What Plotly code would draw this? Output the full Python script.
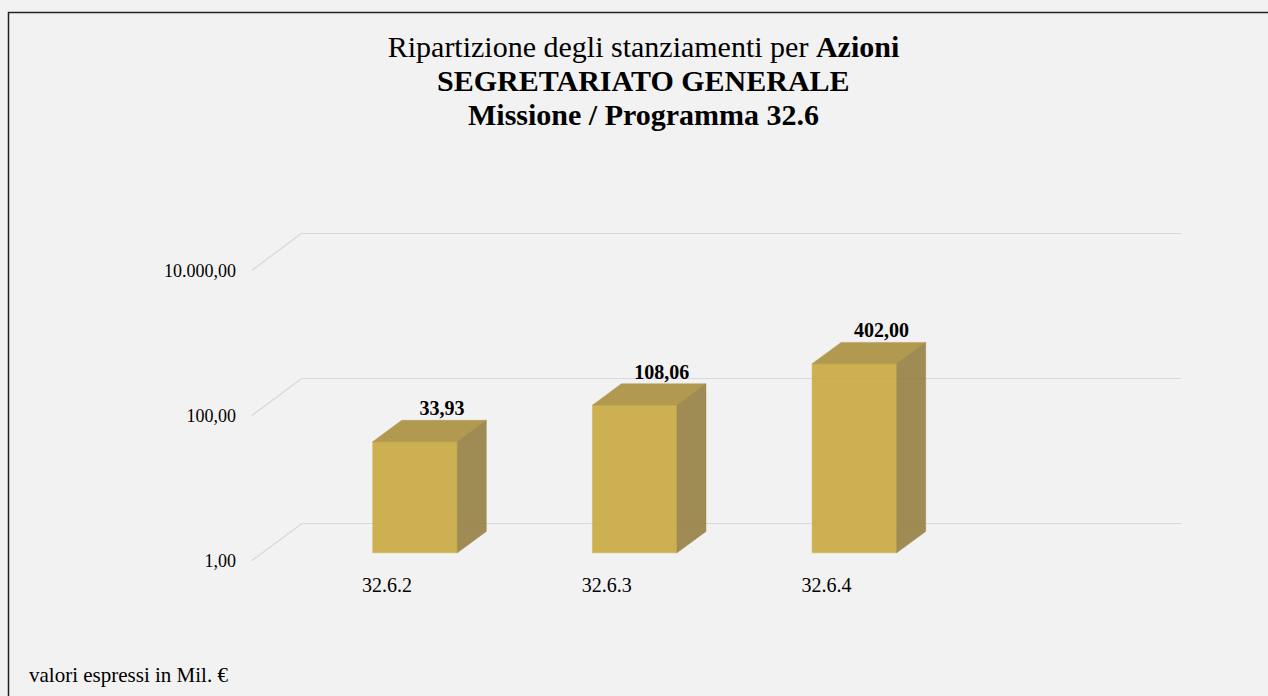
import math
import plotly.graph_objects as go

# ---------------- data ----------------
categories = ["32.6.2", "32.6.3", "32.6.4"]
values = [33.93, 108.06, 402.00]
tick_values = [1, 100, 10000]
title_line1 = "Ripartizione degli stanziamenti per <b>Azioni</b>"
title_line2 = "<b>SEGRETARIATO GENERALE</b>"
title_line3 = "<b>Missione / Programma 32.6</b>"
footnote = "valori espressi in Mil. €"

# ---------------- style / geometry ----------------
W, H = 1268, 696
FONT = "Liberation Serif, Times New Roman, serif"
BG = "#f2f2f2"
GRID = "#d9d9d9"
FRONT_COL = "#caa940"
TOP_COL = "#ab903e"
SIDE_COL = "#978044"

PPD = 73.0            # pixels per decade (log axis)
Y_TOP, Y_BOT = 200, 570
X_L, X_R = 301.7, 1181.0
FRONT_X = 251.7
BACK_BASE, BAR_BASE, FRONT_BASE = 526.7, 556.0, 564.0
CAT0, CAT_STEP = 387.0, 219.7

BAR_OFF = 28.0 / CAT_STEP
BAR_HALF = 42.3 / CAT_STEP
DEPTH_DX = 29.0 / CAT_STEP
DEPTH_K = 10 ** (21.5 / PPD)
LABEL_DX = 27.0 / CAT_STEP


def pxx(p):
    return p / W


def pxy(p):
    return 1 - p / H


def log_range(base_px):
    return [(base_px - Y_BOT) / PPD, (base_px - Y_TOP) / PPD]


def it_fmt(v):
    s = f"{v:,.2f}"
    return s.replace(",", "X").replace(".", ",").replace("X", ".")


fig = go.Figure()

# anchor trace for the back-wall (gridline) axis
fig.add_trace(go.Scatter(x=[0], y=[1], xaxis="x", yaxis="y", mode="markers",
                         marker=dict(opacity=0), hoverinfo="skip", showlegend=False))

# bars (front, top, side faces) on the bar plane axis
for i, (cat, v) in enumerate(zip(categories, values)):
    xl = i + BAR_OFF - BAR_HALF
    xr = i + BAR_OFF + BAR_HALF
    faces = [
        ([xl, xr, xr, xl, xl], [1, 1, v, v, 1], FRONT_COL),
        ([xl, xr, xr + DEPTH_DX, xl + DEPTH_DX, xl], [v, v, v * DEPTH_K, v * DEPTH_K, v], TOP_COL),
        ([xr, xr, xr + DEPTH_DX, xr + DEPTH_DX, xr], [1, v, v * DEPTH_K, DEPTH_K, 1], SIDE_COL),
    ]
    for fx, fy, col in faces:
        fig.add_trace(go.Scatter(
            x=fx, y=fy, xaxis="x", yaxis="y2", mode="lines", fill="toself",
            fillcolor=col, line=dict(color=col, width=0.5), opacity=0.9,
            hoverinfo="skip", showlegend=False, name=cat))

# value labels
fig.add_trace(go.Scatter(
    x=[i + BAR_OFF + LABEL_DX for i in range(len(values))],
    y=[v * DEPTH_K for v in values],
    xaxis="x", yaxis="y2", mode="text",
    text=[it_fmt(v) for v in values],
    textposition="top center",
    textfont=dict(family=FONT, size=20, color="black", weight="bold"),
    hoverinfo="skip", showlegend=False, cliponaxis=False))

# anchor trace for the front (label) axis
fig.add_trace(go.Scatter(x=[0], y=[1], xaxis="x", yaxis="y3", mode="markers",
                         marker=dict(opacity=0), hoverinfo="skip", showlegend=False))

# diagonal wall edges
shapes = []
for t in tick_values:
    lt = math.log10(t)
    shapes.append(dict(type="line", xref="paper", yref="paper", layer="below",
                       x0=pxx(FRONT_X), y0=pxy(FRONT_BASE - PPD * lt),
                       x1=pxx(X_L), y1=pxy(BACK_BASE - PPD * lt),
                       line=dict(color=GRID, width=1.3)))
# outer frame
shapes.append(dict(type="rect", xref="paper", yref="paper",
                   x0=pxx(8.5), y0=-0.02, x1=1.02, y1=pxy(12.5),
                   line=dict(color="#222222", width=1.5)))

fig.update_layout(
    width=W, height=H,
    margin=dict(l=0, r=0, t=0, b=0),
    paper_bgcolor=BG, plot_bgcolor="rgba(0,0,0,0)",
    font=dict(family=FONT, color="black"),
    showlegend=False,
    title=dict(text=title_line1, x=pxx(643.5), xanchor="center", xref="paper",
               y=pxy(47), yanchor="middle", yref="paper",
               font=dict(family=FONT, size=30, color="black")),
    annotations=[
        dict(text=title_line2, x=pxx(643.5), y=pxy(80.7), xref="paper", yref="paper",
             xanchor="center", yanchor="middle", showarrow=False,
             font=dict(family=FONT, size=30, color="black")),
        dict(text=title_line3, x=pxx(643.5), y=pxy(115), xref="paper", yref="paper",
             xanchor="center", yanchor="middle", showarrow=False,
             font=dict(family=FONT, size=30, color="black")),
        dict(text=footnote, x=pxx(27), y=pxy(679), xref="paper", yref="paper",
             xanchor="left", yanchor="middle", showarrow=False,
             font=dict(family=FONT, size=21, color="black")),
    ],
    shapes=shapes,
    xaxis=dict(domain=[pxx(X_L), pxx(X_R)],
               range=[(X_L - CAT0) / CAT_STEP, (X_R - CAT0) / CAT_STEP],
               tickvals=list(range(len(categories))), ticktext=categories,
               showgrid=False, zeroline=False, showline=False, ticks="",
               ticklabelstandoff=4,
               tickfont=dict(family=FONT, size=20, color="black"),
               anchor="y", fixedrange=True),
    yaxis=dict(domain=[pxy(Y_BOT), pxy(Y_TOP)], type="log",
               range=log_range(BACK_BASE),
               tickvals=tick_values, showticklabels=False, ticks="",
               showgrid=True, gridcolor=GRID, gridwidth=1.3,
               zeroline=False, showline=False, anchor="x", fixedrange=True),
    yaxis2=dict(overlaying="y", type="log", range=log_range(BAR_BASE),
                visible=False, anchor="x", fixedrange=True),
    yaxis3=dict(overlaying="y", type="log", range=log_range(FRONT_BASE),
                tickvals=tick_values, ticktext=[it_fmt(t) for t in tick_values],
                showgrid=False, zeroline=False, showline=False,
                ticks="outside", ticklen=12, tickcolor="rgba(0,0,0,0)",
                tickfont=dict(family=FONT, size=18, color="black"),
                anchor="free", position=pxx(FRONT_X), side="left", fixedrange=True),
)

fig.write_html(
    "out.html",
    config={"displayModeBar": False},
    post_script=("document.body.style.margin='0';"
                 "document.body.style.overflow='hidden';"
                 "document.documentElement.style.overflow='hidden';"),
)
